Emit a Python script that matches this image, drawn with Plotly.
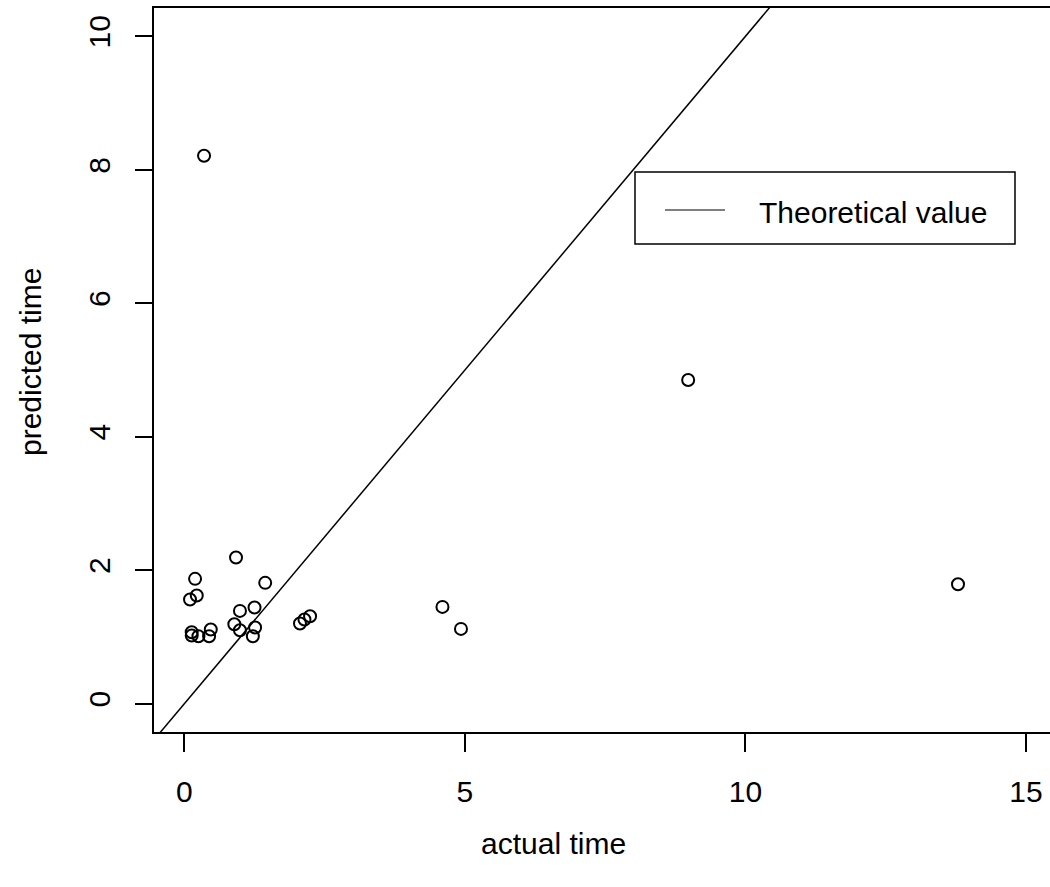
import plotly.graph_objects as go

# ---- data ----
actual_time = [0.92, 0.19, 1.44, 0.22, 0.10, 0.99, 1.25, 0.89, 0.99, 1.26,
               1.22, 0.13, 0.13, 0.25, 0.47, 0.44, 2.06, 2.14, 2.24, 0.35,
               4.60, 4.93, 8.98, 13.79]
predicted_time = [2.19, 1.87, 1.81, 1.62, 1.56, 1.39, 1.44, 1.19, 1.10, 1.14,
                  1.01, 1.07, 1.02, 1.01, 1.11, 1.01, 1.20, 1.26, 1.31, 8.21,
                  1.45, 1.12, 4.85, 1.79]
x_ticks = [0, 5, 10, 15]
y_ticks = [0, 2, 4, 6, 8, 10]
line_name = "Theoretical value"
abline_intercept = 0
abline_slope = 1

x_range = [-0.56, 15.43]
y_range = [-0.44, 10.44]

FONT = "Liberation Sans, Arial, sans-serif"
PH = 726.0  # plot height in px (ref y 7..733)
PW = 897.0  # plot width in px (ref x 153..1050)


def py(ref_y):
    return (733 - ref_y) / PH


def px(ref_x):
    return (ref_x - 153) / PW


fig = go.Figure()

# theoretical line y = a + b x across the whole x range (clipped by plot area)
lx = [x_range[0] - 1, x_range[1] + 1]
ly = [abline_intercept + abline_slope * v for v in lx]
fig.add_trace(go.Scatter(x=lx, y=ly, mode="lines",
                         line=dict(color="black", width=1.5),
                         name=line_name, showlegend=False, hoverinfo="skip"))

fig.add_trace(go.Scatter(x=actual_time, y=predicted_time, mode="markers",
                         marker=dict(symbol="circle-open", size=12,
                                     color="black", line=dict(width=2)),
                         showlegend=False))

fig.update_layout(
    width=1050, height=887,
    margin=dict(l=153, r=0, t=7, b=154),
    paper_bgcolor="white", plot_bgcolor="white",
    font=dict(family=FONT, size=30, color="black"),
    showlegend=False,
)

fig.update_xaxes(range=x_range, tickvals=x_ticks, ticktext=[str(v) for v in x_ticks],
                 ticks="outside", ticklen=18, tickwidth=1.5, tickcolor="black",
                 showline=False, showgrid=False, zeroline=False,
                 tickfont=dict(family=FONT, size=30), ticklabelstandoff=14)
fig.update_yaxes(range=y_range, tickvals=y_ticks, ticktext=[str(v) for v in y_ticks],
                 ticks="outside", ticklen=17, tickwidth=1.5, tickcolor="black",
                 showline=False, showgrid=False, zeroline=False, tickangle=-90,
                 tickfont=dict(family=FONT, size=30), ticklabelstandoff=13)

# plot frame: left, top, bottom (right side is off the page in the reference)
fig.add_shape(type="path", xref="paper", yref="paper",
              path="M 1.02 0 L 0 0 L 0 1 L 1.02 1",
              line=dict(color="black", width=2), layer="above")

# manual legend box
fig.add_shape(type="rect", xref="paper", yref="paper",
              x0=px(635), x1=px(1015), y0=py(244), y1=py(172),
              line=dict(color="black", width=1.5), fillcolor="white", layer="above")
fig.add_shape(type="line", xref="paper", yref="paper",
              x0=px(665), x1=px(725), y0=py(210), y1=py(210),
              line=dict(color="black", width=1.2), layer="above")
fig.add_annotation(text=line_name, xref="paper", yref="paper",
                   x=px(757), y=py(212), xanchor="left", yanchor="middle",
                   showarrow=False, font=dict(family=FONT, size=30))

# axis titles
fig.add_annotation(text="actual time", xref="paper", yref="paper",
                   x=px(553), y=py(843), xanchor="center", yanchor="middle",
                   showarrow=False, font=dict(family=FONT, size=30))
fig.add_annotation(text="predicted time", xref="paper", yref="paper",
                   x=px(30), y=py(362), xanchor="center", yanchor="middle",
                   textangle=-90, showarrow=False, font=dict(family=FONT, size=30))

fig.write_html("out.html", config={"displayModeBar": False},
               post_script="document.body.style.margin='0';document.body.style.overflow='hidden';")
